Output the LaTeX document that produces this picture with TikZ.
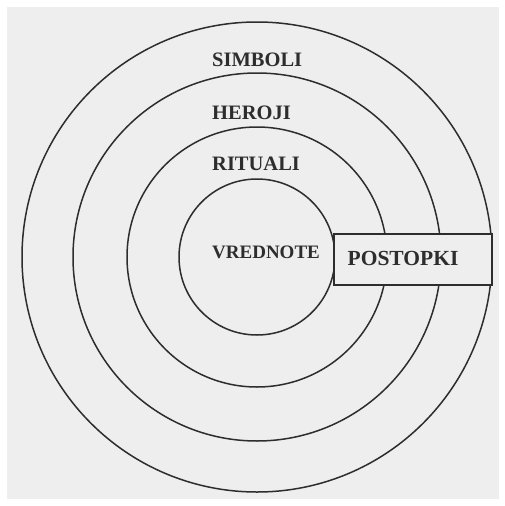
\documentclass[tikz,border=0pt]{standalone}
\usepackage{fontspec}
\setmainfont{Liberation Serif}
\definecolor{paper}{RGB}{238,238,238}
\definecolor{ink}{RGB}{45,45,45}
\begin{document}
\begin{tikzpicture}[x=1pt,y=-1pt,
  ring/.style={circle, draw=ink, line width=1.5pt, inner sep=0pt},
  lab/.style={anchor=west, inner sep=0pt, text=ink, font=\fontsize{20.5}{21}\selectfont\bfseries},
  boxstyle/.style={draw=ink, fill=paper, line width=1.5pt, inner sep=0pt, minimum width=158pt, minimum height=51pt}]
\useasboundingbox (0,0) rectangle (505,506);
\fill[white] (0,0) rectangle (505,506);
\fill[paper] (7,7) rectangle (499,499);
\node[ring, minimum size=470pt] (outer) at (257,257) {};
\node[ring, minimum size=368pt] (second) at (257,257) {};
\node[ring, minimum size=260pt] (third) at (257,257) {};
\node[ring, minimum size=156pt] (inner) at (257,257) {};
\node[boxstyle] (box) at (413,259.5) {};
\node[lab] (simboli) at (212,60) {SIMBOLI};
\node[lab] (heroji) at (212,113) {HEROJI};
\node[lab] (rituali) at (212,164) {RITUALI};
\node[lab, font=\fontsize{19}{20}\selectfont\bfseries] (vrednote) at (212,252) {VREDNOTE};
\node[lab, anchor=center, font=\fontsize{21.5}{22}\selectfont\bfseries] (postopki) at (403,258) {POSTOPKI};
\end{tikzpicture}
\end{document}
